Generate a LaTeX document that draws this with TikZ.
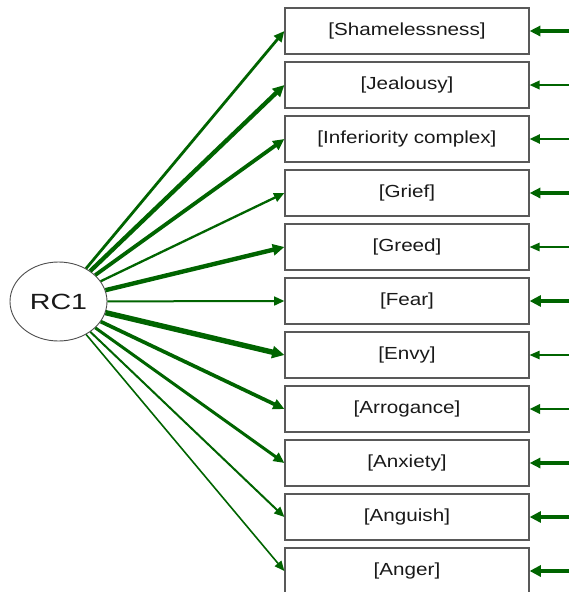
\documentclass[tikz,border=0pt]{standalone}
\usepackage{fontspec}
\setmainfont{Liberation Sans}
\usetikzlibrary{arrows.meta,shapes.geometric}
\definecolor{pathgreen}{RGB}{0,100,0}
\begin{document}
\begin{tikzpicture}[x=1pt,y=-1pt,
  itembox/.style={draw=black!65,line width=1.2pt,minimum width=244pt,minimum height=46pt,inner sep=0pt,
    font=\fontsize{17.5}{19}\selectfont,text=black!90},
  latent/.style={draw=black!70,line width=0.9pt,ellipse,minimum width=97pt,minimum height=79pt,inner sep=0pt,
    font=\fontsize{22}{24}\selectfont,text=black!90},
  load/.style={draw=pathgreen,line width=#1,-{Triangle[length=9pt 0.6,width=7pt 0.9]}},
  resid/.style={draw=pathgreen,line width=#1,-{Triangle[length=9.5pt 0.4,width=7.5pt 0.8]}}
]
\useasboundingbox (0,0) rectangle (569,592);
\node[latent] (rc) at (58.5,301.5) {\scalebox{1.3}[1]{RC1}};
\foreach \i/\t in {0/Shamelessness,1/Jealousy,2/Inferiority complex,3/Grief,4/Greed,5/Fear,6/Envy,7/Arrogance,8/Anxiety,9/Anguish,10/Anger}{
  \node[itembox] (b\i) at (407,{31+54*\i}) {\raisebox{-2pt}{\scalebox{1.18}[1]{[\t]}}};
  \coordinate (e\i) at (569,{31+54*\i});
}
\foreach \i/\w in {0/2.8pt,1/4.3pt,2/3.8pt,3/2.3pt,4/4.4pt,5/2pt,6/5.4pt,7/3.7pt,8/3pt,9/2pt,10/1.6pt}{
  \draw[load=\w] (rc) -- (b\i.west);
}
\foreach \i/\w in {0/3.3pt,1/1.6pt,2/2pt,3/3.3pt,4/1.3pt,5/4.3pt,6/1.2pt,7/2.4pt,8/3.3pt,9/4.3pt,10/4.6pt}{
  \draw[resid=\w] (e\i) -- (b\i.east);
}
\end{tikzpicture}
\end{document}
